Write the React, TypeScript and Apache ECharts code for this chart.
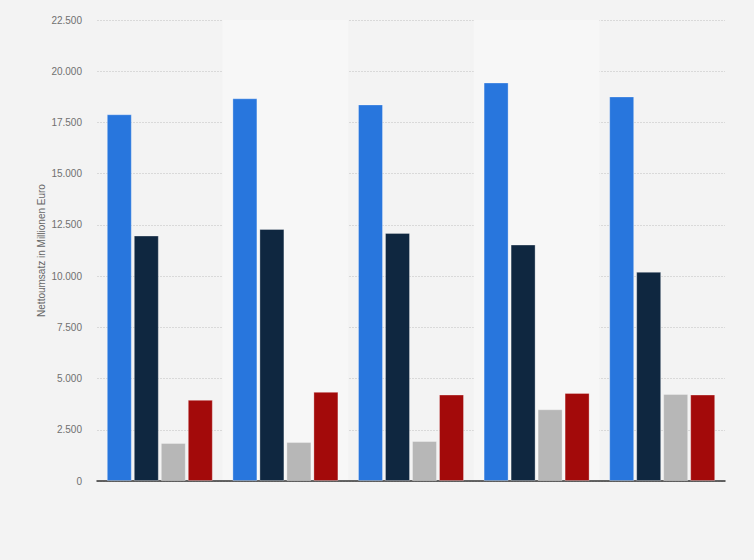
import { useEffect, useRef } from "react";
import * as echarts from "echarts";

const CATEGORIES = ["2018", "2019", "2020", "2021", "2022"];
const SERIES_NAMES = ["Segment A", "Segment B", "Segment C", "Segment D"];
const SERIES_A = [17900, 18680, 18380, 19450, 18770];
const SERIES_B = [11980, 12300, 12110, 11540, 10210];
const SERIES_C = [1860, 1900, 1950, 3500, 4250];
const SERIES_D = [3960, 4350, 4220, 4300, 4220];
const COLORS = ["#2876dd", "#0f2740", "#b7b7b7", "#a30a0a"];

const fmt = (v: number) => String(v).replace(/\B(?=(\d{3})+(?!\d))/g, ".");

export default function App() {
  const ref = useRef<HTMLDivElement>(null);

  useEffect(() => {
    if (!ref.current) return;
    const chart = echarts.init(ref.current, undefined, { renderer: "svg" });
    const values = [SERIES_A, SERIES_B, SERIES_C, SERIES_D];
    chart.setOption({
      animation: false,
      backgroundColor: "#f3f3f3",
      textStyle: { fontFamily: "Liberation Sans, Arial, sans-serif" },
      grid: { left: 97, right: 29, top: 20, bottom: 79 },
      xAxis: {
        type: "category",
        data: CATEGORIES,
        axisLabel: { show: false },
        axisTick: { show: false },
        axisLine: { lineStyle: { color: "#333", width: 1.5 } },
        splitArea: { show: true, areaStyle: { color: ["rgba(0,0,0,0)", "#f7f7f7"] } },
      },
      yAxis: {
        type: "value",
        min: 0,
        max: 22500,
        interval: 2500,
        name: "Nettoumsatz in Millionen Euro",
        nameLocation: "middle",
        nameGap: 51,
        nameMoveOverlap: false,
        nameTextStyle: { color: "#666", fontSize: 10 },
        axisLine: { show: false },
        axisTick: { show: false },
        axisLabel: { color: "#707070", fontSize: 10, margin: 15, formatter: (v: number) => fmt(v) },
        splitLine: { lineStyle: { color: "#d9d9d9", type: [2, 1], width: 1 } },
      },
      series: SERIES_NAMES.map((name, i) => ({
        name,
        type: "bar",
        data: values[i],
        barWidth: 25,
        barGap: "8%",
        itemStyle: {
          color: COLORS[i],
          borderColor: "rgba(255,255,255,0.3)",
          borderWidth: 1,
        },
      })),
    });
    return () => chart.dispose();
  }, []);

  return (
    <div
      ref={ref}
      style={{ position: "absolute", left: 0, top: 0, width: 754, height: 560 }}
    />
  );
}
